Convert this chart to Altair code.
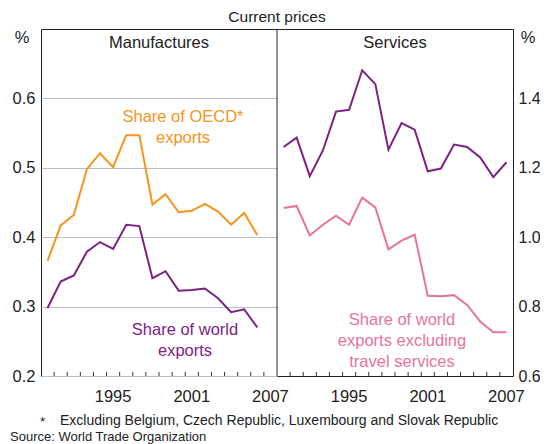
import altair as alt
import pandas as pd

# ---- data ----
years_man = list(range(1990, 2007))
man_oecd = [0.366, 0.417, 0.432, 0.498, 0.521, 0.501, 0.547, 0.547, 0.447, 0.462,
            0.436, 0.438, 0.448, 0.437, 0.418, 0.435, 0.403]
man_world = [0.298, 0.336, 0.345, 0.379, 0.393, 0.383, 0.418, 0.416, 0.341, 0.351,
             0.323, 0.324, 0.326, 0.312, 0.292, 0.296, 0.270]

years_srv = list(range(1990, 2008))
srv_world = [1.260, 1.287, 1.176, 1.250, 1.362, 1.367, 1.481, 1.441, 1.252, 1.329,
             1.310, 1.190, 1.198, 1.267, 1.260, 1.230, 1.173, 1.216]
srv_excl = [1.084, 1.090, 1.005, 1.036, 1.062, 1.036, 1.114, 1.086, 0.965, 0.990,
            1.007, 0.831, 0.830, 0.833, 0.805, 0.757, 0.726, 0.726]

x_labels = [1995, 2001, 2007]
x_ticks = [y + 0.5 for y in range(1990, 2007)]
left_y_ticks = [0.2, 0.3, 0.4, 0.5, 0.6]
right_y_ticks = [0.6, 0.8, 1.0, 1.2, 1.4]

series_names = ["OECD", "World", "Services world", "Services excl travel"]
series_colors = ["#F7941D", "#7D2283", "#7D2283", "#E6749F"]

FONT = "Liberation Sans"
W, H = 472, 347
HALF = 236
TXT = "#222222"
FS = 16.5

df_left = pd.DataFrame({
    "year": years_man * 2,
    "value": man_oecd + man_world,
    "series": ["OECD"] * len(years_man) + ["World"] * len(years_man),
})
df_right = pd.DataFrame({
    "year": years_srv * 2,
    "value": srv_world + srv_excl,
    "series": ["Services world"] * len(years_srv) + ["Services excl travel"] * len(years_srv),
})
df_ticks = pd.DataFrame({"t": x_ticks})
df_xlab = pd.DataFrame({"year": x_labels, "lab": [str(v) for v in x_labels]})

color = alt.Color("series:N", scale=alt.Scale(domain=series_names, range=series_colors), legend=None)


def panel(df, xrange, ydomain, yaxis):
    xs = alt.Scale(domain=[1989.5, 2007.5], range=xrange, nice=False, zero=False)
    ys = alt.Scale(domain=ydomain, nice=False, zero=False)
    lines = alt.Chart(df).mark_line(strokeWidth=2).encode(
        x=alt.X("year:Q", scale=xs, axis=None),
        y=alt.Y("value:Q", scale=ys, axis=yaxis),
        color=color,
    )
    ticks = alt.Chart(df_ticks).mark_rule(color="#333333", strokeWidth=1).encode(
        x=alt.X("t:Q", scale=xs, axis=None),
        y=alt.value(H - 4),
        y2=alt.value(H),
    )
    labs = alt.Chart(df_xlab).mark_text(
        font=FONT, fontSize=FS, color=TXT, baseline="middle", align="center"
    ).encode(
        x=alt.X("year:Q", scale=xs, axis=None),
        y=alt.value(H + 21),
        text="lab:N",
    )
    return alt.layer(lines, ticks, labs)


left_axis = alt.Axis(orient="left", values=left_y_ticks, format=".1f", ticks=False, tickSize=0,
                     domain=False, grid=True, gridColor="#B7BFC8", gridWidth=1,
                     labelFont=FONT, labelFontSize=FS, labelColor=TXT, labelPadding=6,
                     labelFlush=False, title=None)
right_axis = alt.Axis(orient="right", values=right_y_ticks, format=".1f", ticks=False, tickSize=0,
                      domain=False, grid=False, labelFont=FONT, labelFontSize=16,
                      labelColor=TXT, labelPadding=5, labelFlush=False, title=None)

left = panel(df_left, [0, HALF], [0.2, 0.7], left_axis)
right = panel(df_right, [HALF, W], [0.6, 1.6], right_axis)


def txt(s, x, y, size=FS, col=TXT, align="center", weight="normal", baseline="middle"):
    return alt.Chart(pd.DataFrame({"s": [s]})).mark_text(
        font=FONT, fontSize=size, color=col, align=align, baseline=baseline, fontWeight=weight
    ).encode(x=alt.value(x), y=alt.value(y), text="s:N")


divider = alt.Chart(pd.DataFrame({"d": [0]})).mark_rule(color="#222222", strokeWidth=1).encode(
    x=alt.value(HALF), y=alt.value(0), y2=alt.value(H)
)

annots = [
    txt("Share of Australian Exports in Global Trade", 236, -27, size=21, weight="bold", baseline="alphabetic"),
    txt("Current prices", 236, -12, size=15.5),
    txt("Manufactures", 118, 14),
    txt("Services", 354, 14),
    txt("%", -19, 9),
    txt("%", 487, 9),
    txt("Share of OECD*", 142, 88, col="#F7941D"),
    txt("exports", 142, 109, col="#F7941D"),
    txt("Share of world", 144, 301, col="#7D2283"),
    txt("exports", 144, 322, col="#7D2283"),
    txt("Share of world", 361, 291, col="#E6749F"),
    txt("exports excluding", 361, 312, col="#E6749F"),
    txt("travel services", 361, 333, col="#E6749F"),
    txt("*", -1, 393, size=13.5, align="left"),
    txt("Excluding Belgium, Czech Republic, Luxembourg and Slovak Republic", 19, 392, size=14, align="left"),
    txt("Source: World Trade Organization", -31, 408, size=13, align="left"),
]

chart = alt.layer(left, right, divider, *annots).resolve_scale(
    x="independent", y="independent"
).properties(
    width=W,
    height=H,
    autosize=alt.AutoSizeParams(type="none"),
    padding={"left": 33, "top": 21, "right": 27, "bottom": 68},
).configure_view(
    stroke="#222222", strokeWidth=1
)

chart.save("out.html", embed_options={"renderer": "svg", "actions": False})
